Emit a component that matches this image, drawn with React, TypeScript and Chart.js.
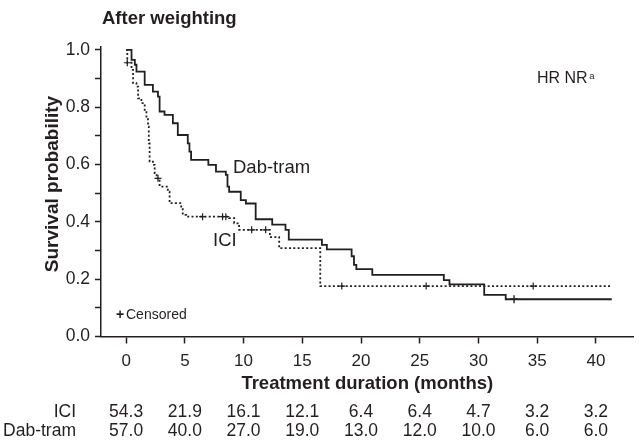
import React, { useEffect, useRef } from "react";
import { Chart, registerables } from "chart.js";

Chart.register(...registerables);

const FONT = "'Liberation Sans', Arial, Helvetica, sans-serif";
const INK = "#231f20";

const titleText = "After weighting";
const hrText = "HR NR";
const hrSup = "a";
const xTitle = "Treatment duration (months)";
const yTitle = "Survival probability";
const censorLegend = "Censored";
const seriesNames = ["Dab-tram", "ICI"];

const xTickValues = [0, 5, 10, 15, 20, 25, 30, 35, 40];
const yTickValues = [0, 0.1, 0.2, 0.3, 0.4, 0.5, 0.6, 0.7, 0.8, 0.9, 1.0];

const riskLabels = ["ICI", "Dab-tram"];
const riskICI = ["54.3", "21.9", "16.1", "12.1", "6.4", "6.4", "4.7", "3.2", "3.2"];
const riskDab = ["57.0", "40.0", "27.0", "19.0", "13.0", "12.0", "10.0", "6.0", "6.0"];

const dabTimes = [0, 0.46, 0.74, 0.88, 1.58, 2.28, 2.71, 2.85, 3.27, 3.98, 4.4, 5.25, 5.39, 5.53, 7.0, 7.65, 8.49, 8.63, 8.77, 9.76, 10.2, 11.03, 12.44, 13.57, 13.85, 16.67, 17.09, 19.2, 19.4, 19.6, 20.96, 27.05, 27.53, 30.49, 32.32, 41.35];
const dabSurv = [1, 0.965, 0.948, 0.924, 0.878, 0.854, 0.837, 0.785, 0.773, 0.744, 0.703, 0.674, 0.645, 0.616, 0.599, 0.575, 0.564, 0.523, 0.505, 0.476, 0.464, 0.409, 0.39, 0.372, 0.338, 0.32, 0.304, 0.28, 0.25, 0.235, 0.215, 0.197, 0.182, 0.145, 0.13, 0.13];

const iciTimes = [0, 0.1, 0.46, 0.59, 0.88, 1.02, 1.3, 1.58, 1.73, 1.86, 1.93, 2.0, 2.28, 2.43, 2.6, 2.85, 3.55, 3.7, 4.69, 4.82, 5.11, 8.77, 9.2, 9.62, 12.24, 13.03, 16.53, 41.35];
const iciSurv = [1, 0.955, 0.93, 0.884, 0.872, 0.831, 0.814, 0.791, 0.762, 0.732, 0.674, 0.61, 0.599, 0.57, 0.552, 0.523, 0.505, 0.465, 0.453, 0.424, 0.418, 0.413, 0.395, 0.372, 0.347, 0.308, 0.176, 0.176];

const iciCensorTimes = [0.1, 2.71, 6.51, 8.21, 8.49, 10.69, 11.88, 18.36, 25.55, 34.66];
const dabCensorTimes = [33.03];

function survAt(times: number[], surv: number[], t: number) {
  let v = surv[0];
  for (let i = 0; i < times.length; i++) if (times[i] <= t) v = surv[i];
  return v;
}

const annotate = {
  id: "annotate",
  afterDraw(chart: any) {
    const ctx = chart.ctx;
    const xs = chart.scales.x;
    ctx.save();
    ctx.fillStyle = INK;
    ctx.textBaseline = "middle";
    ctx.textAlign = "left";
    ctx.font = `bold 18.5px ${FONT}`;
    ctx.fillText(titleText, 102, 19);

    // y axis title
    ctx.save();
    ctx.translate(53, 184);
    ctx.rotate(-Math.PI / 2);
    ctx.textAlign = "center";
    ctx.font = `bold 19px ${FONT}`;
    ctx.fillText(yTitle, 0, 0);
    ctx.restore();

    ctx.font = `16px ${FONT}`;
    ctx.fillText(hrText, 537, 79);
    const w = ctx.measureText(hrText).width;
    ctx.font = `9.5px ${FONT}`;
    ctx.fillText(hrSup, 537 + w + 1.5, 76);

    ctx.font = `18.5px ${FONT}`;
    ctx.fillText(seriesNames[0], 233, 168);
    ctx.fillText(seriesNames[1], 213, 241);

    ctx.font = `bold 14px ${FONT}`;
    ctx.fillText("+", 116, 315);
    ctx.font = `14px ${FONT}`;
    ctx.fillText(censorLegend, 126, 315);

    ctx.font = `17.5px ${FONT}`;
    const rows = [riskICI, riskDab];
    const rowY = [412, 431];
    rows.forEach((row, r) => {
      ctx.textAlign = "right";
      ctx.fillText(riskLabels[r], 76, rowY[r]);
      ctx.textAlign = "center";
      row.forEach((val, i) => {
        ctx.fillText(val, xs.getPixelForValue(xTickValues[i]), rowY[r]);
      });
    });
    ctx.restore();
  },
};

export default function App() {
  const ref = useRef<HTMLCanvasElement | null>(null);
  useEffect(() => {
    if (!ref.current) return;
    const chart = new Chart(ref.current, {
      type: "line",
      data: {
        datasets: [
          {
            label: seriesNames[0],
            data: dabTimes.map((t, i) => ({ x: t, y: dabSurv[i] })),
            stepped: "before",
            borderColor: INK,
            borderWidth: 1.8,
            pointRadius: 0,
            fill: false,
          },
          {
            label: seriesNames[1],
            data: iciTimes.map((t, i) => ({ x: t, y: iciSurv[i] })),
            stepped: "before",
            borderColor: INK,
            borderWidth: 1.8,
            borderDash: [2, 2.3],
            pointRadius: 0,
            fill: false,
          },
          {
            label: "ICI censored",
            data: iciCensorTimes.map((t) => ({ x: t, y: survAt(iciTimes, iciSurv, t) })),
            showLine: false,
            pointStyle: "cross",
            pointRadius: 3.5,
            borderColor: INK,
            borderWidth: 1.2,
          },
          {
            label: "Dab-tram censored",
            data: dabCensorTimes.map((t) => ({ x: t, y: survAt(dabTimes, dabSurv, t) })),
            showLine: false,
            pointStyle: "cross",
            pointRadius: 4,
            borderColor: INK,
            borderWidth: 1.4,
          },
        ] as any,
      },
      options: {
        animation: false,
        responsive: false,
        events: [],
        layout: { padding: { left: 0, top: 47, right: 2, bottom: 0 } },
        plugins: { legend: { display: false }, tooltip: { enabled: false } },
        scales: {
          x: {
            type: "linear",
            min: -2.14,
            max: 43.21,
            afterBuildTicks: (s: any) => {
              s.ticks = xTickValues.map((v) => ({ value: v }));
            },
            afterFit: (s: any) => {
              s.height = 111.5;
            },
            grid: { drawOnChartArea: false, drawTicks: true, tickLength: 7, tickColor: INK, tickWidth: 1.5 },
            border: { display: true, color: INK, width: 1.5 },
            ticks: {
              color: INK,
              font: { family: FONT, size: 17 },
              padding: 8,
              maxRotation: 0,
              autoSkip: false,
              callback: (v: any) => String(v),
            },
            title: {
              display: true,
              text: xTitle,
              color: INK,
              font: { family: FONT, size: 18.5, weight: "bold" },
              padding: { top: 0, bottom: 53 },
            },
          },
          y: {
            type: "linear",
            min: 0,
            max: 1.01,
            afterBuildTicks: (s: any) => {
              s.ticks = yTickValues.map((v) => ({ value: v }));
            },
            afterFit: (s: any) => {
              s.width = 101;
            },
            grid: { drawOnChartArea: false, drawTicks: true, tickLength: 6, tickColor: INK, tickWidth: 1.5 },
            border: { display: true, color: INK, width: 1.5 },
            ticks: {
              color: INK,
              font: { family: FONT, size: 17.5 },
              padding: 5,
              autoSkip: false,
              callback: (v: any) => (Math.round(Number(v) * 10) % 2 === 0 ? Number(v).toFixed(1) : ""),
            },
            title: { display: false },
          },
        },
      } as any,
      plugins: [annotate],
    });
    return () => chart.destroy();
  }, []);
  return (
    <div style={{ position: "absolute", left: 0, top: 0, width: 639, height: 448, background: "#fff" }}>
      <canvas ref={ref} width={639} height={448} style={{ display: "block", width: 639, height: 448 }} />
    </div>
  );
}
